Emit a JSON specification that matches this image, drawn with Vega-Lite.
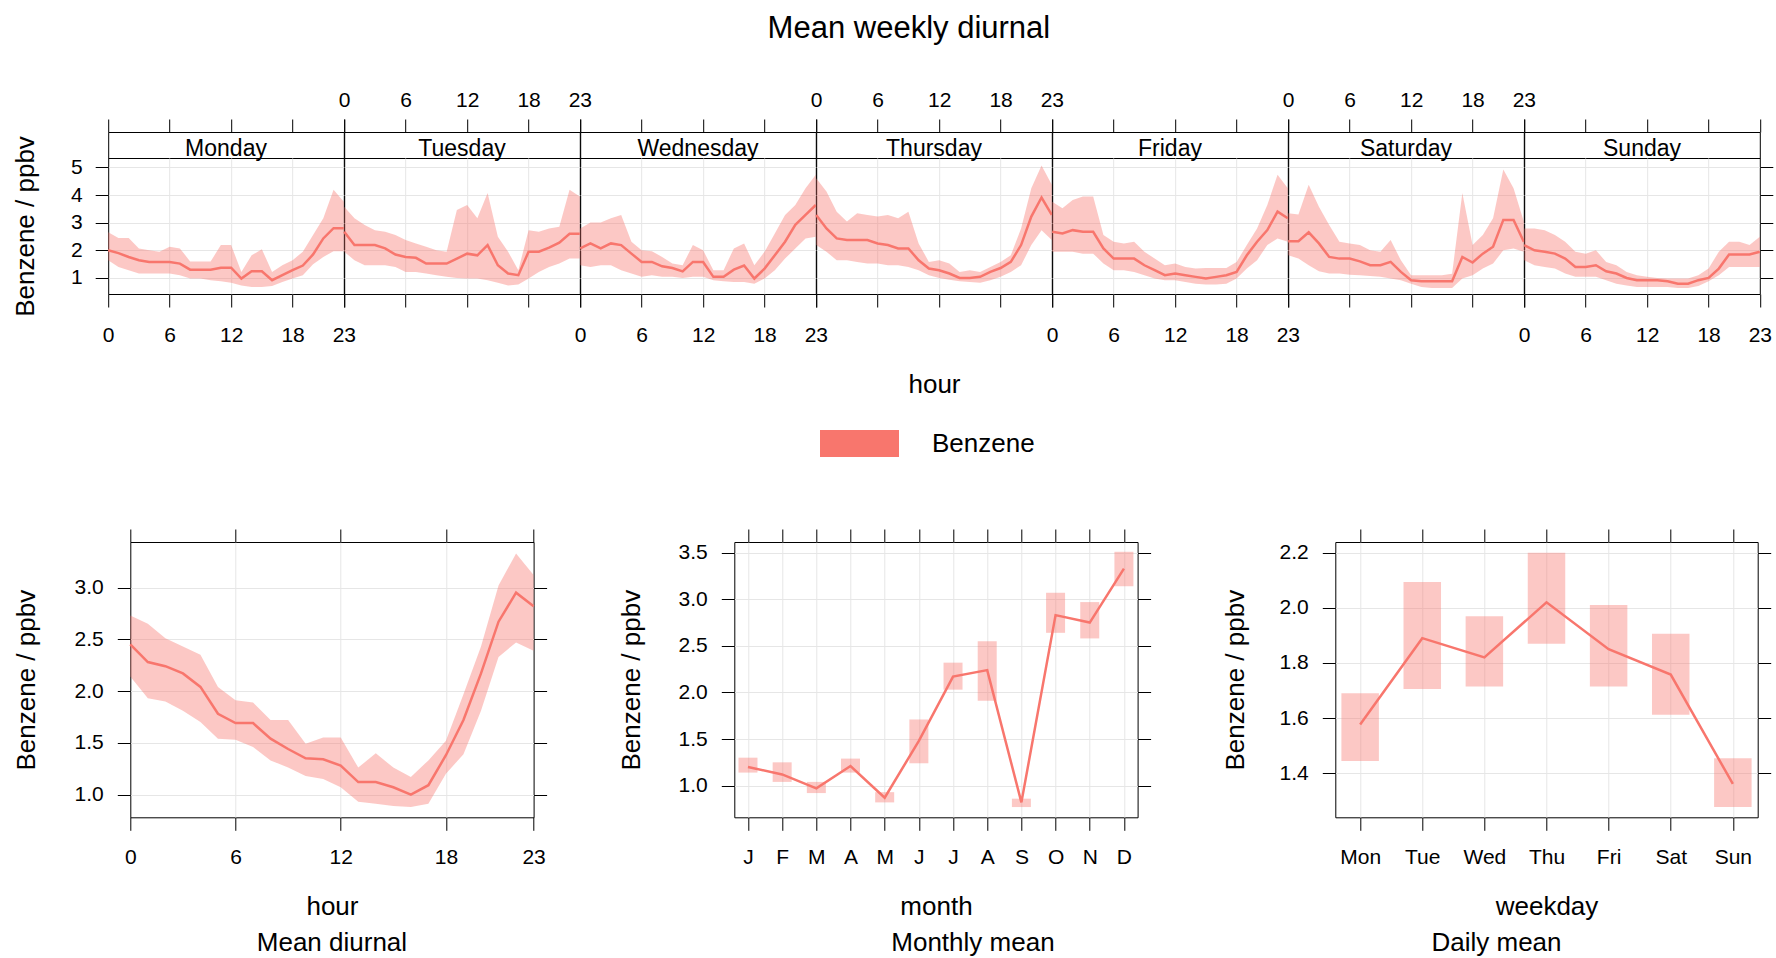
{
"$schema": "https://vega.github.io/schema/vega-lite/v6.json",
"padding": {"left": 12, "top": 12, "right": 0, "bottom": 0},
"background": "white",
"title": {"text": "Mean weekly diurnal", "fontSize": 31, "fontWeight": "normal", "anchor": "middle", "offset": 44, "dx": 6, "color": "black", "font": "Liberation Sans"},
"datasets": {
"weekly": [
{"day":"Monday","hour":0,"mean":2.0,"lo":1.64,"hi":2.65},{"day":"Monday","hour":1,"mean":1.9,"lo":1.4,"hi":2.45},{"day":"Monday","hour":2,"mean":1.76,"lo":1.28,"hi":2.45},{"day":"Monday","hour":3,"mean":1.64,"lo":1.16,"hi":2.07},{"day":"Monday","hour":4,"mean":1.58,"lo":1.16,"hi":2.0},{"day":"Monday","hour":5,"mean":1.58,"lo":1.16,"hi":1.95},{"day":"Monday","hour":6,"mean":1.58,"lo":1.16,"hi":2.13},{"day":"Monday","hour":7,"mean":1.52,"lo":1.1,"hi":2.07},{"day":"Monday","hour":8,"mean":1.3,"lo":0.98,"hi":1.6},{"day":"Monday","hour":9,"mean":1.3,"lo":0.98,"hi":1.6},{"day":"Monday","hour":10,"mean":1.3,"lo":0.92,"hi":1.6},{"day":"Monday","hour":11,"mean":1.37,"lo":0.88,"hi":2.19},{"day":"Monday","hour":12,"mean":1.37,"lo":0.83,"hi":2.19},{"day":"Monday","hour":13,"mean":0.98,"lo":0.73,"hi":1.22},{"day":"Monday","hour":14,"mean":1.24,"lo":0.67,"hi":1.82},{"day":"Monday","hour":15,"mean":1.24,"lo":0.67,"hi":2.04},{"day":"Monday","hour":16,"mean":0.92,"lo":0.71,"hi":1.22},{"day":"Monday","hour":17,"mean":1.1,"lo":0.85,"hi":1.46},{"day":"Monday","hour":18,"mean":1.28,"lo":0.98,"hi":1.64},{"day":"Monday","hour":19,"mean":1.45,"lo":1.1,"hi":1.95},{"day":"Monday","hour":20,"mean":1.85,"lo":1.5,"hi":2.55},{"day":"Monday","hour":21,"mean":2.43,"lo":1.76,"hi":3.16},{"day":"Monday","hour":22,"mean":2.8,"lo":1.97,"hi":4.19},{"day":"Monday","hour":23,"mean":2.8,"lo":1.97,"hi":3.76},
{"day":"Tuesday","hour":0,"mean":2.67,"lo":1.95,"hi":3.58},{"day":"Tuesday","hour":1,"mean":2.19,"lo":1.64,"hi":3.16},{"day":"Tuesday","hour":2,"mean":2.19,"lo":1.46,"hi":2.92},{"day":"Tuesday","hour":3,"mean":2.19,"lo":1.46,"hi":2.73},{"day":"Tuesday","hour":4,"mean":2.07,"lo":1.46,"hi":2.67},{"day":"Tuesday","hour":5,"mean":1.85,"lo":1.4,"hi":2.55},{"day":"Tuesday","hour":6,"mean":1.76,"lo":1.22,"hi":2.37},{"day":"Tuesday","hour":7,"mean":1.73,"lo":1.22,"hi":2.25},{"day":"Tuesday","hour":8,"mean":1.52,"lo":1.16,"hi":2.13},{"day":"Tuesday","hour":9,"mean":1.52,"lo":1.1,"hi":2.0},{"day":"Tuesday","hour":10,"mean":1.52,"lo":1.04,"hi":1.95},{"day":"Tuesday","hour":11,"mean":1.7,"lo":1.0,"hi":3.46},{"day":"Tuesday","hour":12,"mean":1.88,"lo":0.98,"hi":3.64},{"day":"Tuesday","hour":13,"mean":1.82,"lo":0.98,"hi":3.16},{"day":"Tuesday","hour":14,"mean":2.19,"lo":0.92,"hi":4.07},{"day":"Tuesday","hour":15,"mean":1.46,"lo":0.83,"hi":2.49},{"day":"Tuesday","hour":16,"mean":1.16,"lo":0.73,"hi":1.95},{"day":"Tuesday","hour":17,"mean":1.1,"lo":0.76,"hi":1.28},{"day":"Tuesday","hour":18,"mean":1.95,"lo":0.98,"hi":2.73},{"day":"Tuesday","hour":19,"mean":1.95,"lo":1.22,"hi":2.67},{"day":"Tuesday","hour":20,"mean":2.1,"lo":1.4,"hi":2.79},{"day":"Tuesday","hour":21,"mean":2.28,"lo":1.52,"hi":2.85},{"day":"Tuesday","hour":22,"mean":2.6,"lo":1.7,"hi":4.19},{"day":"Tuesday","hour":23,"mean":2.6,"lo":1.7,"hi":3.95},
{"day":"Wednesday","hour":0,"mean":2.07,"lo":1.46,"hi":2.79},{"day":"Wednesday","hour":1,"mean":2.25,"lo":1.4,"hi":3.01},{"day":"Wednesday","hour":2,"mean":2.07,"lo":1.46,"hi":3.01},{"day":"Wednesday","hour":3,"mean":2.25,"lo":1.46,"hi":3.16},{"day":"Wednesday","hour":4,"mean":2.19,"lo":1.28,"hi":3.28},{"day":"Wednesday","hour":5,"mean":1.88,"lo":1.16,"hi":2.31},{"day":"Wednesday","hour":6,"mean":1.58,"lo":1.04,"hi":2.0},{"day":"Wednesday","hour":7,"mean":1.58,"lo":1.1,"hi":1.97},{"day":"Wednesday","hour":8,"mean":1.42,"lo":1.04,"hi":1.76},{"day":"Wednesday","hour":9,"mean":1.36,"lo":1.04,"hi":1.52},{"day":"Wednesday","hour":10,"mean":1.24,"lo":1.0,"hi":1.46},{"day":"Wednesday","hour":11,"mean":1.58,"lo":1.04,"hi":2.19},{"day":"Wednesday","hour":12,"mean":1.58,"lo":1.04,"hi":2.0},{"day":"Wednesday","hour":13,"mean":1.04,"lo":0.92,"hi":1.28},{"day":"Wednesday","hour":14,"mean":1.04,"lo":0.88,"hi":1.28},{"day":"Wednesday","hour":15,"mean":1.3,"lo":0.85,"hi":2.07},{"day":"Wednesday","hour":16,"mean":1.45,"lo":0.85,"hi":2.25},{"day":"Wednesday","hour":17,"mean":0.98,"lo":0.79,"hi":1.46},{"day":"Wednesday","hour":18,"mean":1.34,"lo":0.98,"hi":1.95},{"day":"Wednesday","hour":19,"mean":1.82,"lo":1.28,"hi":2.61},{"day":"Wednesday","hour":20,"mean":2.31,"lo":1.7,"hi":3.28},{"day":"Wednesday","hour":21,"mean":2.92,"lo":2.07,"hi":3.64},{"day":"Wednesday","hour":22,"mean":3.28,"lo":2.43,"hi":4.25},{"day":"Wednesday","hour":23,"mean":3.64,"lo":2.49,"hi":4.73},
{"day":"Thursday","hour":0,"mean":3.28,"lo":2.19,"hi":4.61},{"day":"Thursday","hour":1,"mean":2.79,"lo":1.95,"hi":4.13},{"day":"Thursday","hour":2,"mean":2.43,"lo":1.64,"hi":3.4},{"day":"Thursday","hour":3,"mean":2.37,"lo":1.64,"hi":3.04},{"day":"Thursday","hour":4,"mean":2.37,"lo":1.58,"hi":3.34},{"day":"Thursday","hour":5,"mean":2.37,"lo":1.52,"hi":3.28},{"day":"Thursday","hour":6,"mean":2.25,"lo":1.52,"hi":3.22},{"day":"Thursday","hour":7,"mean":2.19,"lo":1.46,"hi":3.28},{"day":"Thursday","hour":8,"mean":2.07,"lo":1.46,"hi":3.16},{"day":"Thursday","hour":9,"mean":2.07,"lo":1.4,"hi":3.4},{"day":"Thursday","hour":10,"mean":1.64,"lo":1.28,"hi":2.25},{"day":"Thursday","hour":11,"mean":1.34,"lo":1.1,"hi":1.58},{"day":"Thursday","hour":12,"mean":1.28,"lo":1.0,"hi":1.64},{"day":"Thursday","hour":13,"mean":1.16,"lo":0.94,"hi":1.52},{"day":"Thursday","hour":14,"mean":1.0,"lo":0.88,"hi":1.22},{"day":"Thursday","hour":15,"mean":1.0,"lo":0.85,"hi":1.28},{"day":"Thursday","hour":16,"mean":1.04,"lo":0.83,"hi":1.22},{"day":"Thursday","hour":17,"mean":1.22,"lo":0.92,"hi":1.4},{"day":"Thursday","hour":18,"mean":1.36,"lo":1.04,"hi":1.58},{"day":"Thursday","hour":19,"mean":1.58,"lo":1.22,"hi":1.82},{"day":"Thursday","hour":20,"mean":2.19,"lo":1.46,"hi":2.79},{"day":"Thursday","hour":21,"mean":3.22,"lo":2.19,"hi":4.25},{"day":"Thursday","hour":22,"mean":3.91,"lo":2.73,"hi":5.07},{"day":"Thursday","hour":23,"mean":3.28,"lo":2.37,"hi":4.37},
{"day":"Friday","hour":0,"mean":2.67,"lo":1.95,"hi":3.76},{"day":"Friday","hour":1,"mean":2.61,"lo":1.95,"hi":3.52},{"day":"Friday","hour":2,"mean":2.73,"lo":1.95,"hi":3.82},{"day":"Friday","hour":3,"mean":2.67,"lo":1.88,"hi":3.95},{"day":"Friday","hour":4,"mean":2.67,"lo":1.88,"hi":3.95},{"day":"Friday","hour":5,"mean":2.07,"lo":1.52,"hi":2.55},{"day":"Friday","hour":6,"mean":1.7,"lo":1.28,"hi":2.31},{"day":"Friday","hour":7,"mean":1.7,"lo":1.28,"hi":2.25},{"day":"Friday","hour":8,"mean":1.7,"lo":1.22,"hi":2.31},{"day":"Friday","hour":9,"mean":1.46,"lo":1.1,"hi":1.95},{"day":"Friday","hour":10,"mean":1.28,"lo":0.98,"hi":1.7},{"day":"Friday","hour":11,"mean":1.1,"lo":0.92,"hi":1.46},{"day":"Friday","hour":12,"mean":1.16,"lo":0.92,"hi":1.52},{"day":"Friday","hour":13,"mean":1.1,"lo":0.85,"hi":1.4},{"day":"Friday","hour":14,"mean":1.04,"lo":0.79,"hi":1.34},{"day":"Friday","hour":15,"mean":0.98,"lo":0.76,"hi":1.36},{"day":"Friday","hour":16,"mean":1.04,"lo":0.76,"hi":1.36},{"day":"Friday","hour":17,"mean":1.1,"lo":0.79,"hi":1.36},{"day":"Friday","hour":18,"mean":1.22,"lo":0.98,"hi":1.58},{"day":"Friday","hour":19,"mean":1.82,"lo":1.34,"hi":2.19},{"day":"Friday","hour":20,"mean":2.31,"lo":1.64,"hi":2.79},{"day":"Friday","hour":21,"mean":2.73,"lo":2.19,"hi":3.64},{"day":"Friday","hour":22,"mean":3.4,"lo":2.43,"hi":4.73},{"day":"Friday","hour":23,"mean":3.16,"lo":2.31,"hi":4.25},
{"day":"Saturday","hour":0,"mean":2.33,"lo":1.82,"hi":3.34},{"day":"Saturday","hour":1,"mean":2.33,"lo":1.7,"hi":3.3},{"day":"Saturday","hour":2,"mean":2.65,"lo":1.46,"hi":4.37},{"day":"Saturday","hour":3,"mean":2.25,"lo":1.24,"hi":3.58},{"day":"Saturday","hour":4,"mean":1.76,"lo":1.16,"hi":2.92},{"day":"Saturday","hour":5,"mean":1.7,"lo":1.16,"hi":2.31},{"day":"Saturday","hour":6,"mean":1.7,"lo":1.12,"hi":2.25},{"day":"Saturday","hour":7,"mean":1.6,"lo":1.1,"hi":2.19},{"day":"Saturday","hour":8,"mean":1.46,"lo":1.07,"hi":2.0},{"day":"Saturday","hour":9,"mean":1.46,"lo":1.04,"hi":1.95},{"day":"Saturday","hour":10,"mean":1.58,"lo":0.98,"hi":2.37},{"day":"Saturday","hour":11,"mean":1.22,"lo":0.92,"hi":1.64},{"day":"Saturday","hour":12,"mean":0.92,"lo":0.79,"hi":1.1},{"day":"Saturday","hour":13,"mean":0.88,"lo":0.67,"hi":1.1},{"day":"Saturday","hour":14,"mean":0.88,"lo":0.64,"hi":1.1},{"day":"Saturday","hour":15,"mean":0.88,"lo":0.64,"hi":1.1},{"day":"Saturday","hour":16,"mean":0.88,"lo":0.64,"hi":1.15},{"day":"Saturday","hour":17,"mean":1.76,"lo":0.98,"hi":4.07},{"day":"Saturday","hour":18,"mean":1.56,"lo":1.1,"hi":2.19},{"day":"Saturday","hour":19,"mean":1.88,"lo":1.34,"hi":2.55},{"day":"Saturday","hour":20,"mean":2.13,"lo":1.52,"hi":3.16},{"day":"Saturday","hour":21,"mean":3.1,"lo":2.0,"hi":4.92},{"day":"Saturday","hour":22,"mean":3.1,"lo":2.07,"hi":4.25},{"day":"Saturday","hour":23,"mean":2.31,"lo":1.95,"hi":3.04},
{"day":"Sunday","hour":0,"mean":2.19,"lo":1.64,"hi":2.79},{"day":"Sunday","hour":1,"mean":2.0,"lo":1.46,"hi":2.79},{"day":"Sunday","hour":2,"mean":1.95,"lo":1.4,"hi":2.73},{"day":"Sunday","hour":3,"mean":1.88,"lo":1.34,"hi":2.55},{"day":"Sunday","hour":4,"mean":1.7,"lo":1.16,"hi":2.31},{"day":"Sunday","hour":5,"mean":1.4,"lo":1.04,"hi":1.95},{"day":"Sunday","hour":6,"mean":1.4,"lo":1.04,"hi":1.88},{"day":"Sunday","hour":7,"mean":1.46,"lo":1.04,"hi":2.0},{"day":"Sunday","hour":8,"mean":1.24,"lo":0.92,"hi":1.58},{"day":"Sunday","hour":9,"mean":1.16,"lo":0.79,"hi":1.46},{"day":"Sunday","hour":10,"mean":1.0,"lo":0.73,"hi":1.22},{"day":"Sunday","hour":11,"mean":0.92,"lo":0.67,"hi":1.1},{"day":"Sunday","hour":12,"mean":0.92,"lo":0.67,"hi":1.04},{"day":"Sunday","hour":13,"mean":0.92,"lo":0.67,"hi":1.0},{"day":"Sunday","hour":14,"mean":0.88,"lo":0.67,"hi":0.98},{"day":"Sunday","hour":15,"mean":0.79,"lo":0.64,"hi":0.98},{"day":"Sunday","hour":16,"mean":0.79,"lo":0.64,"hi":0.98},{"day":"Sunday","hour":17,"mean":0.92,"lo":0.71,"hi":1.1},{"day":"Sunday","hour":18,"mean":1.0,"lo":0.88,"hi":1.34},{"day":"Sunday","hour":19,"mean":1.34,"lo":1.1,"hi":1.95},{"day":"Sunday","hour":20,"mean":1.85,"lo":1.4,"hi":2.31},{"day":"Sunday","hour":21,"mean":1.85,"lo":1.4,"hi":2.31},{"day":"Sunday","hour":22,"mean":1.85,"lo":1.4,"hi":2.19},{"day":"Sunday","hour":23,"mean":1.95,"lo":1.4,"hi":2.49}
],
"hourly": [
{"hour":0,"mean":2.45,"lo":2.14,"hi":2.73},{"hour":1,"mean":2.28,"lo":1.93,"hi":2.65},{"hour":2,"mean":2.24,"lo":1.9,"hi":2.51},{"hour":3,"mean":2.17,"lo":1.81,"hi":2.43},{"hour":4,"mean":2.04,"lo":1.7,"hi":2.35},{"hour":5,"mean":1.78,"lo":1.54,"hi":2.04},{"hour":6,"mean":1.69,"lo":1.53,"hi":1.91},{"hour":7,"mean":1.69,"lo":1.46,"hi":1.89},{"hour":8,"mean":1.54,"lo":1.33,"hi":1.72},{"hour":9,"mean":1.44,"lo":1.26,"hi":1.72},{"hour":10,"mean":1.35,"lo":1.18,"hi":1.49},{"hour":11,"mean":1.34,"lo":1.15,"hi":1.55},{"hour":12,"mean":1.28,"lo":1.07,"hi":1.55},{"hour":13,"mean":1.12,"lo":0.93,"hi":1.26},{"hour":14,"mean":1.12,"lo":0.91,"hi":1.4},{"hour":15,"mean":1.07,"lo":0.89,"hi":1.26},{"hour":16,"mean":1.0,"lo":0.88,"hi":1.17},{"hour":17,"mean":1.09,"lo":0.91,"hi":1.33},{"hour":18,"mean":1.38,"lo":1.2,"hi":1.52},{"hour":19,"mean":1.72,"lo":1.39,"hi":1.97},{"hour":20,"mean":2.17,"lo":1.81,"hi":2.43},{"hour":21,"mean":2.67,"lo":2.33,"hi":3.02},{"hour":22,"mean":2.95,"lo":2.47,"hi":3.33},{"hour":23,"mean":2.82,"lo":2.39,"hi":3.12}
],
"monthly": [
{"month":"Jan","mean":1.2,"lo":1.14,"hi":1.3},{"month":"Feb","mean":1.12,"lo":1.04,"hi":1.25},{"month":"Mar","mean":0.97,"lo":0.92,"hi":1.04},{"month":"Apr","mean":1.21,"lo":1.14,"hi":1.29},{"month":"May","mean":0.87,"lo":0.82,"hi":0.93},{"month":"Jun","mean":1.48,"lo":1.24,"hi":1.71},{"month":"Jul","mean":2.17,"lo":2.03,"hi":2.32},{"month":"Aug","mean":2.24,"lo":1.91,"hi":2.55},{"month":"Sep","mean":0.82,"lo":0.77,"hi":0.86},{"month":"Oct","mean":2.83,"lo":2.64,"hi":3.07},{"month":"Nov","mean":2.75,"lo":2.58,"hi":2.97},{"month":"Dec","mean":3.33,"lo":3.14,"hi":3.51}
],
"daily": [
{"weekday":"Mon","mean":1.577,"lo":1.444,"hi":1.69},{"weekday":"Tue","mean":1.89,"lo":1.706,"hi":2.094},{"weekday":"Wed","mean":1.82,"lo":1.715,"hi":1.97},{"weekday":"Thu","mean":2.02,"lo":1.87,"hi":2.2},{"weekday":"Fri","mean":1.85,"lo":1.715,"hi":2.01},{"weekday":"Sat","mean":1.758,"lo":1.612,"hi":1.906},{"weekday":"Sun","mean":1.361,"lo":1.277,"hi":1.454}
]
},
"vconcat": [
{
"columns": 7, "spacing": 0, "bounds": "flush",
"concat": [
{"width":235.6,"height":26,"data":{"name":"weekly"},"transform":[{"filter":"datum.day === 'Monday'"}],"layer":[{"mark":{"type":"rule","opacity":0},"encoding":{"x":{"field":"hour","type":"quantitative","scale":{"domain":[0,23],"nice":false,"zero":false},"axis":{"orient":"top","values":[0,6,12,18,23],"tickCount":5,"labels":false,"title":null,"grid":false,"labelPadding":9}}}},{"transform":[{"filter":"datum.hour === 0"}],"mark":{"type":"text","fontSize":23,"color":"black","dy":4},"encoding":{"text":{"field":"day","type":"nominal"}}}]},
{"width":235.6,"height":26,"data":{"name":"weekly"},"transform":[{"filter":"datum.day === 'Tuesday'"}],"layer":[{"mark":{"type":"rule","opacity":0},"encoding":{"x":{"field":"hour","type":"quantitative","scale":{"domain":[0,23],"nice":false,"zero":false},"axis":{"orient":"top","values":[0,6,12,18,23],"tickCount":5,"labels":true,"title":null,"grid":false,"labelPadding":9}}}},{"transform":[{"filter":"datum.hour === 0"}],"mark":{"type":"text","fontSize":23,"color":"black","dy":4},"encoding":{"text":{"field":"day","type":"nominal"}}}]},
{"width":235.6,"height":26,"data":{"name":"weekly"},"transform":[{"filter":"datum.day === 'Wednesday'"}],"layer":[{"mark":{"type":"rule","opacity":0},"encoding":{"x":{"field":"hour","type":"quantitative","scale":{"domain":[0,23],"nice":false,"zero":false},"axis":{"orient":"top","values":[0,6,12,18,23],"tickCount":5,"labels":false,"title":null,"grid":false,"labelPadding":9}}}},{"transform":[{"filter":"datum.hour === 0"}],"mark":{"type":"text","fontSize":23,"color":"black","dy":4},"encoding":{"text":{"field":"day","type":"nominal"}}}]},
{"width":235.6,"height":26,"data":{"name":"weekly"},"transform":[{"filter":"datum.day === 'Thursday'"}],"layer":[{"mark":{"type":"rule","opacity":0},"encoding":{"x":{"field":"hour","type":"quantitative","scale":{"domain":[0,23],"nice":false,"zero":false},"axis":{"orient":"top","values":[0,6,12,18,23],"tickCount":5,"labels":true,"title":null,"grid":false,"labelPadding":9}}}},{"transform":[{"filter":"datum.hour === 0"}],"mark":{"type":"text","fontSize":23,"color":"black","dy":4},"encoding":{"text":{"field":"day","type":"nominal"}}}]},
{"width":235.6,"height":26,"data":{"name":"weekly"},"transform":[{"filter":"datum.day === 'Friday'"}],"layer":[{"mark":{"type":"rule","opacity":0},"encoding":{"x":{"field":"hour","type":"quantitative","scale":{"domain":[0,23],"nice":false,"zero":false},"axis":{"orient":"top","values":[0,6,12,18,23],"tickCount":5,"labels":false,"title":null,"grid":false,"labelPadding":9}}}},{"transform":[{"filter":"datum.hour === 0"}],"mark":{"type":"text","fontSize":23,"color":"black","dy":4},"encoding":{"text":{"field":"day","type":"nominal"}}}]},
{"width":235.6,"height":26,"data":{"name":"weekly"},"transform":[{"filter":"datum.day === 'Saturday'"}],"layer":[{"mark":{"type":"rule","opacity":0},"encoding":{"x":{"field":"hour","type":"quantitative","scale":{"domain":[0,23],"nice":false,"zero":false},"axis":{"orient":"top","values":[0,6,12,18,23],"tickCount":5,"labels":true,"title":null,"grid":false,"labelPadding":9}}}},{"transform":[{"filter":"datum.hour === 0"}],"mark":{"type":"text","fontSize":23,"color":"black","dy":4},"encoding":{"text":{"field":"day","type":"nominal"}}}]},
{"width":235.6,"height":26,"data":{"name":"weekly"},"transform":[{"filter":"datum.day === 'Sunday'"}],"layer":[{"mark":{"type":"rule","opacity":0},"encoding":{"x":{"field":"hour","type":"quantitative","scale":{"domain":[0,23],"nice":false,"zero":false},"axis":{"orient":"top","values":[0,6,12,18,23],"tickCount":5,"labels":false,"title":null,"grid":false,"labelPadding":9}}}},{"mark":{"type":"rule","opacity":0},"encoding":{"y":{"datum":0.5,"type":"quantitative","scale":{"domain":[0,1]},"axis":{"orient":"right","values":[0.5],"tickCount":1,"labels":false,"ticks":true,"tickSize":33,"tickColor":"transparent","grid":false,"title":null}}}},{"transform":[{"filter":"datum.hour === 0"}],"mark":{"type":"text","fontSize":23,"color":"black","dy":4},"encoding":{"text":{"field":"day","type":"nominal"}}}]},

{"width":235.6,"height":136,"data":{"name":"weekly"},"transform":[{"filter":"datum.day === 'Monday'"}],
 "encoding":{"x":{"field":"hour","type":"quantitative","scale":{"domain":[0,23],"nice":false,"zero":false},"axis":{"orient":"bottom","values":[0,6,12,18,23],"tickCount":5,"labels":true,"title":null,"grid":true,"gridColor":{"condition":{"test":"datum.value === 0 || datum.value === 23","value":"transparent"},"value":"#E6E6E6"},"labelPadding":17}}},
 "layer":[
  {"mark":{"type":"area","opacity":0.4},"encoding":{"y":{"field":"lo","type":"quantitative","scale":{"domain":[0.42,5.34],"nice":false,"zero":false},"axis":{"orient":"left","values":[1,2,3,4,5],"tickCount":5,"labelOverlap":false,"title":"Benzene / ppbv","grid":true,"labelPadding":13,"titlePadding":32}},"y2":{"field":"hi"},
   "color":{"datum":"Benzene","scale":{"range":["#F8766D"]},"legend":{"orient":"none","legendX":712,"legendY":272,"title":null,"symbolType":"M-1,-0.342L1,-0.342L1,0.342L-1,0.342Z","symbolSize":6241,"symbolOpacity":1,"symbolStrokeWidth":0,"labelFontSize":26,"labelOffset":33,"labelColor":"black","padding":0}}}},
  {"mark":{"type":"line","color":"#F8766D","strokeWidth":2.5},"encoding":{"y":{"field":"mean","type":"quantitative"}}}
 ]},
{"width":235.6,"height":136,"data":{"name":"weekly"},"transform":[{"filter":"datum.day === 'Tuesday'"}],
 "encoding":{"x":{"field":"hour","type":"quantitative","scale":{"domain":[0,23],"nice":false,"zero":false},"axis":{"orient":"bottom","values":[0,6,12,18,23],"tickCount":5,"labels":false,"title":null,"grid":true,"gridColor":{"condition":{"test":"datum.value === 0 || datum.value === 23","value":"transparent"},"value":"#E6E6E6"},"labelPadding":17}}},
 "layer":[
  {"mark":{"type":"area","color":"#F8766D","opacity":0.4},"encoding":{"y":{"field":"lo","type":"quantitative","scale":{"domain":[0.42,5.34],"nice":false,"zero":false},"axis":{"orient":"left","values":[1,2,3,4,5],"tickCount":5,"title":null,"grid":true,"labels":false,"ticks":false}},"y2":{"field":"hi"}}},
  {"mark":{"type":"line","color":"#F8766D","strokeWidth":2.5},"encoding":{"y":{"field":"mean","type":"quantitative"}}}
 ]},
{"width":235.6,"height":136,"data":{"name":"weekly"},"transform":[{"filter":"datum.day === 'Wednesday'"}],
 "encoding":{"x":{"field":"hour","type":"quantitative","scale":{"domain":[0,23],"nice":false,"zero":false},"axis":{"orient":"bottom","values":[0,6,12,18,23],"tickCount":5,"labels":true,"title":null,"grid":true,"gridColor":{"condition":{"test":"datum.value === 0 || datum.value === 23","value":"transparent"},"value":"#E6E6E6"},"labelPadding":17}}},
 "layer":[
  {"mark":{"type":"area","color":"#F8766D","opacity":0.4},"encoding":{"y":{"field":"lo","type":"quantitative","scale":{"domain":[0.42,5.34],"nice":false,"zero":false},"axis":{"orient":"left","values":[1,2,3,4,5],"tickCount":5,"title":null,"grid":true,"labels":false,"ticks":false}},"y2":{"field":"hi"}}},
  {"mark":{"type":"line","color":"#F8766D","strokeWidth":2.5},"encoding":{"y":{"field":"mean","type":"quantitative"}}}
 ]},
{"width":235.6,"height":136,"data":{"name":"weekly"},"transform":[{"filter":"datum.day === 'Thursday'"}],
 "encoding":{"x":{"field":"hour","type":"quantitative","scale":{"domain":[0,23],"nice":false,"zero":false},"axis":{"orient":"bottom","values":[0,6,12,18,23],"tickCount":5,"labels":false,"title":"hour","titlePadding":64,"grid":true,"gridColor":{"condition":{"test":"datum.value === 0 || datum.value === 23","value":"transparent"},"value":"#E6E6E6"},"labelPadding":17}}},
 "layer":[
  {"mark":{"type":"area","color":"#F8766D","opacity":0.4},"encoding":{"y":{"field":"lo","type":"quantitative","scale":{"domain":[0.42,5.34],"nice":false,"zero":false},"axis":{"orient":"left","values":[1,2,3,4,5],"tickCount":5,"title":null,"grid":true,"labels":false,"ticks":false}},"y2":{"field":"hi"}}},
  {"mark":{"type":"line","color":"#F8766D","strokeWidth":2.5},"encoding":{"y":{"field":"mean","type":"quantitative"}}}
 ]},
{"width":235.6,"height":136,"data":{"name":"weekly"},"transform":[{"filter":"datum.day === 'Friday'"}],
 "encoding":{"x":{"field":"hour","type":"quantitative","scale":{"domain":[0,23],"nice":false,"zero":false},"axis":{"orient":"bottom","values":[0,6,12,18,23],"tickCount":5,"labels":true,"title":null,"grid":true,"gridColor":{"condition":{"test":"datum.value === 0 || datum.value === 23","value":"transparent"},"value":"#E6E6E6"},"labelPadding":17}}},
 "layer":[
  {"mark":{"type":"area","color":"#F8766D","opacity":0.4},"encoding":{"y":{"field":"lo","type":"quantitative","scale":{"domain":[0.42,5.34],"nice":false,"zero":false},"axis":{"orient":"left","values":[1,2,3,4,5],"tickCount":5,"title":null,"grid":true,"labels":false,"ticks":false}},"y2":{"field":"hi"}}},
  {"mark":{"type":"line","color":"#F8766D","strokeWidth":2.5},"encoding":{"y":{"field":"mean","type":"quantitative"}}}
 ]},
{"width":235.6,"height":136,"data":{"name":"weekly"},"transform":[{"filter":"datum.day === 'Saturday'"}],
 "encoding":{"x":{"field":"hour","type":"quantitative","scale":{"domain":[0,23],"nice":false,"zero":false},"axis":{"orient":"bottom","values":[0,6,12,18,23],"tickCount":5,"labels":false,"title":null,"grid":true,"gridColor":{"condition":{"test":"datum.value === 0 || datum.value === 23","value":"transparent"},"value":"#E6E6E6"},"labelPadding":17}}},
 "layer":[
  {"mark":{"type":"area","color":"#F8766D","opacity":0.4},"encoding":{"y":{"field":"lo","type":"quantitative","scale":{"domain":[0.42,5.34],"nice":false,"zero":false},"axis":{"orient":"left","values":[1,2,3,4,5],"tickCount":5,"title":null,"grid":true,"labels":false,"ticks":false}},"y2":{"field":"hi"}}},
  {"mark":{"type":"line","color":"#F8766D","strokeWidth":2.5},"encoding":{"y":{"field":"mean","type":"quantitative"}}}
 ]},
{"width":235.6,"height":136,"data":{"name":"weekly"},"transform":[{"filter":"datum.day === 'Sunday'"}],
 "encoding":{"x":{"field":"hour","type":"quantitative","scale":{"domain":[0,23],"nice":false,"zero":false},"axis":{"orient":"bottom","values":[0,6,12,18,23],"tickCount":5,"labels":true,"title":null,"grid":true,"gridColor":{"condition":{"test":"datum.value === 0 || datum.value === 23","value":"transparent"},"value":"#E6E6E6"},"labelPadding":17}}},
 "layer":[
  {"mark":{"type":"area","color":"#F8766D","opacity":0.4},"encoding":{"y":{"field":"lo","type":"quantitative","scale":{"domain":[0.42,5.34],"nice":false,"zero":false},"axis":{"orient":"right","values":[1,2,3,4,5],"tickCount":5,"title":null,"grid":true,"labels":false,"ticks":true}},"y2":{"field":"hi"}}},
  {"mark":{"type":"line","color":"#F8766D","strokeWidth":2.5},"encoding":{"y":{"field":"mean","type":"quantitative"}}}
 ]}
]
},
{
"spacing": 69,
"hconcat": [
{"width":403.3,"height":275.3,"data":{"name":"hourly"},
 "title":{"text":"Mean diurnal","orient":"bottom","anchor":"middle","fontSize":26,"fontWeight":"normal","color":"black","offset":11},
 "layer":[
  {"mark":{"type":"area","color":"#F8766D","opacity":0.4},
   "encoding":{"x":{"field":"hour","type":"quantitative","scale":{"domain":[0,23],"nice":false,"zero":false},"axis":{"orient":"bottom","values":[0,6,12,18,23],"tickCount":5,"title":"hour","grid":true,"gridColor":{"condition":{"test":"datum.value === 0 || datum.value === 23","value":"transparent"},"value":"#E6E6E6"},"labelPadding":16,"titlePadding":26}},
    "y":{"field":"lo","type":"quantitative","scale":{"domain":[0.78,3.44],"nice":false,"zero":false},"axis":{"orient":"left","values":[1,1.5,2,2.5,3],"tickCount":5,"format":".1f","labelOverlap":false,"title":"Benzene / ppbv","grid":true,"labelPadding":14,"titlePadding":35}},
    "y2":{"field":"hi"}}},
  {"mark":{"type":"line","color":"#F8766D","strokeWidth":2.5},
   "encoding":{"x":{"field":"hour","type":"quantitative","scale":{"domain":[0,23],"nice":false,"zero":false},"axis":{"orient":"top","values":[0,6,12,18,23],"tickCount":5,"labels":false,"title":null,"grid":false}},
    "y":{"field":"mean","type":"quantitative","scale":{"domain":[0.78,3.44],"nice":false,"zero":false},"axis":{"orient":"right","values":[1,1.5,2,2.5,3],"tickCount":5,"labels":false,"title":null,"grid":false}}}}
 ],
 "resolve":{"scale":{"x":"independent","y":"independent"}}},
{"width":403.3,"height":275.3,"data":{"name":"monthly"},
 "title":{"text":"Monthly mean","orient":"bottom","anchor":"middle","fontSize":26,"fontWeight":"normal","color":"black","offset":11,"dx":37},
 "layer":[
  {"mark":{"type":"bar","color":"#F8766D","opacity":0.4,"size":19},
   "encoding":{"x":{"field":"month","type":"ordinal","sort":null,"scale":{"type":"point","domain":["Jan","Feb","Mar","Apr","May","Jun","Jul","Aug","Sep","Oct","Nov","Dec"],"padding":0.4},"axis":{"orient":"bottom","labelExpr":"substring(datum.label, 0, 1)","labelAngle":0,"title":"month","grid":true,"labelPadding":16,"titlePadding":26}},
    "y":{"field":"lo","type":"quantitative","scale":{"domain":[0.66,3.615],"nice":false,"zero":false},"axis":{"orient":"left","values":[1,1.5,2,2.5,3,3.5],"tickCount":6,"format":".1f","labelOverlap":false,"title":"Benzene / ppbv","grid":true,"labelPadding":14,"titlePadding":34}},
    "y2":{"field":"hi"}}},
  {"mark":{"type":"line","color":"#F8766D","strokeWidth":2.5},
   "encoding":{"x":{"field":"month","type":"ordinal","sort":null,"scale":{"type":"point","domain":["Jan","Feb","Mar","Apr","May","Jun","Jul","Aug","Sep","Oct","Nov","Dec"],"padding":0.4},"axis":{"orient":"top","labels":false,"title":null,"grid":false}},
    "y":{"field":"mean","type":"quantitative","scale":{"domain":[0.66,3.615],"nice":false,"zero":false},"axis":{"orient":"right","values":[1,1.5,2,2.5,3,3.5],"tickCount":6,"labels":false,"title":null,"grid":false}}}}
 ],
 "resolve":{"scale":{"x":"independent","y":"independent"}}},
{"width":422.4,"height":275.3,"data":{"name":"daily"},
 "title":{"text":"Daily mean","orient":"bottom","anchor":"middle","fontSize":26,"fontWeight":"normal","color":"black","offset":11,"dx":-50},
 "layer":[
  {"mark":{"type":"bar","color":"#F8766D","opacity":0.4,"size":37.5},
   "encoding":{"x":{"field":"weekday","type":"ordinal","sort":null,"scale":{"type":"point","domain":["Mon","Tue","Wed","Thu","Fri","Sat","Sun"],"padding":0.4},"axis":{"orient":"bottom","labelAngle":0,"title":"weekday","grid":true,"labelPadding":16,"titlePadding":26}},
    "y":{"field":"lo","type":"quantitative","scale":{"domain":[1.24,2.239],"nice":false,"zero":false},"axis":{"orient":"left","values":[1.4,1.6,1.8,2.0,2.2],"tickCount":5,"format":".1f","labelOverlap":false,"title":"Benzene / ppbv","grid":true,"labelPadding":14,"titlePadding":31}},
    "y2":{"field":"hi"}}},
  {"mark":{"type":"line","color":"#F8766D","strokeWidth":2.5},
   "encoding":{"x":{"field":"weekday","type":"ordinal","sort":null,"scale":{"type":"point","domain":["Mon","Tue","Wed","Thu","Fri","Sat","Sun"],"padding":0.4},"axis":{"orient":"top","labels":false,"title":null,"grid":false}},
    "y":{"field":"mean","type":"quantitative","scale":{"domain":[1.24,2.239],"nice":false,"zero":false},"axis":{"orient":"right","values":[1.4,1.6,1.8,2.0,2.2],"tickCount":5,"labels":false,"title":null,"grid":false}}}}
 ],
 "resolve":{"scale":{"x":"independent","y":"independent"}}}
]
}
],
"center": true,
"spacing": 130,
"config": {
 "font": "Liberation Sans",
 "view": {"stroke": "black", "strokeWidth": 1},
 "axis": {"domain": false, "tickColor": "black", "tickSize": 13, "tickWidth": 1, "labelColor": "black", "labelFontSize": 21, "titleFontSize": 26, "titleFontWeight": "normal", "titleColor": "black", "gridColor": "#E6E6E6", "gridWidth": 1, "labelFlush": false, "labelOverlap": false, "labelBound": false},
 "legend": {"labelFontSize": 26, "labelColor": "black"}
}
}
